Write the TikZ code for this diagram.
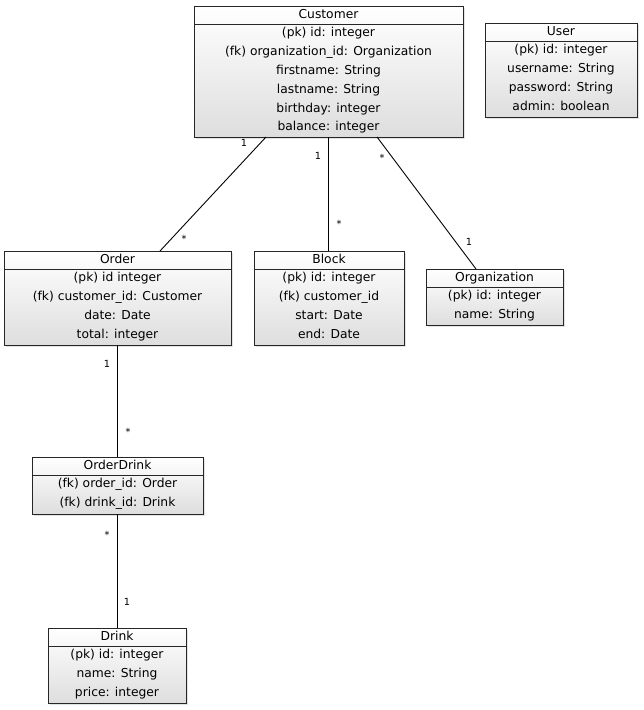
\documentclass[tikz,border=0pt]{standalone}
\usepackage{fontspec}
\setmainfont{DejaVu Sans}
\usetikzlibrary{calc,shadows}
\tikzset{
  cls/.style={draw=black!85, line width=0.95pt, top color=white, bottom color=black!13,
    anchor=north west, inner sep=0pt, outer sep=0pt,
    drop shadow={opacity=0.22, shadow xshift=2pt, shadow yshift=-2pt}},
  txt/.style={font=\fontsize{12.3}{14}\selectfont, inner sep=0pt, anchor=base},
  mult/.style={font=\fontsize{9.8}{11}\selectfont, inner sep=0pt},
  conn/.style={draw=black, line width=0.9pt}
}
% #1 name, #2 x1, #3 y1, #4 x2, #5 y2, #6 title, #7 rows
\newcommand\umlclass[7]{%
  \node[cls, minimum width={(#4-#2)*1pt}, minimum height={(#5-#3)*1pt}] (#1) at (#2,#3) {};
  \draw[line width=0.85pt, black!85] ($(#1.north west)+(0,18.5)$) -- ($(#1.north east)+(0,18.5)$);
  \node[txt] (#1-title) at ($(#1.north)+(0,12.6)$) {#6};
  \foreach \r [count=\i] in {#7} {
    \node[txt] (#1-row\i) at ($(#1.north)+(0,18.5+12.2+18.85*\i-18.85)$) {\r};
  }%
}
\begin{document}
\begin{tikzpicture}[x=1pt,y=-1pt]
\useasboundingbox[fill=white] (0,0) rectangle (644,710);

\umlclass{customer}{194}{6}{463}{137}{Customer}{{(pk) id: integer},{(fk) organization\_id: Organization},{firstname: String},{lastname: String},{birthday: integer},{balance: integer}}
\umlclass{user}{485}{23}{637}{117}{User}{{(pk) id: integer},{username: String},{password: String},{admin: boolean}}
\umlclass{order}{4}{251}{231}{345}{Order}{{(pk) id integer},{(fk) customer\_id: Customer},{date: Date},{total: integer}}
\umlclass{block}{254}{251}{404}{345}{Block}{{(pk) id: integer},{(fk) customer\_id},{start: Date},{end: Date}}
\umlclass{organization}{426}{269}{563}{325}{Organization}{{(pk) id: integer},{name: String}}
\umlclass{orderdrink}{32}{457}{203}{514}{OrderDrink}{{(fk) order\_id: Order},{(fk) drink\_id: Drink}}
\umlclass{drink}{48}{628}{186}{703}{Drink}{{(pk) id: integer},{name: String},{price: integer}}

% connectors
\draw[conn] ($(customer.south west)+(72,0)$) -- ($(order.north west)+(156,0)$);
\draw[conn] (customer.south) -- (customer.south |- block.north);
\draw[conn] ($(customer.south west)+(183,0)$) -- ($(organization.north west)+(50,0)$);
\draw[conn] (order.south) -- (order.south |- orderdrink.north);
\draw[conn] (orderdrink.south) -- (orderdrink.south |- drink.north);

% multiplicities
\node[mult] (m1) at (244,143) {1};
\node[mult] (m2) at (184,239) {*};
\node[mult] (m3) at (318,156) {1};
\node[mult] (m4) at (339,224) {*};
\node[mult] (m5) at (382,158) {*};
\node[mult] (m6) at (469,242) {1};
\node[mult] (m7) at (107,364) {1};
\node[mult] (m8) at (128,432) {*};
\node[mult] (m9) at (107,535) {*};
\node[mult] (m10) at (127,602) {1};
\end{tikzpicture}
\end{document}
